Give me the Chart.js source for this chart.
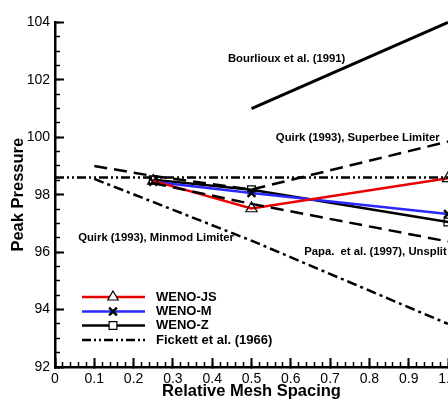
<!DOCTYPE html>
<html>
<head>
<meta charset="utf-8">
<script src="https://cdn.jsdelivr.net/npm/chart.js@4.4.1/dist/chart.umd.min.js"></script>
<style>
  html, body { margin: 0; padding: 0; background: #fff; overflow: hidden; }
  #wrap { width: 480px; height: 406px; }
</style>
</head>
<body>
<div id="wrap"><canvas id="peak" width="480" height="406"></canvas></div>
<script>
// mesh spacing used by the WENO runs
const meshSpacing = [0.25, 0.5, 1.0]
const wenoJS = [98.48, 97.52, 98.57]
const wenoM = [98.45, 98.06, 97.33]
const wenoZ = [98.52, 98.17, 97.05]

// reference results
const fickettX = [0, 1.0]
const fickett = [98.6, 98.6]
const superbeeX = [0.1, 0.25, 0.5, 1.0]
const superbee = [99.0, 98.65, 98.18, 99.85]
const minmodX = [0.1, 0.5, 1.0]
const minmod = [98.55, 96.4, 93.5]
const papaX = [0.25, 0.5, 1.0]
const papa = [98.4, 97.68, 96.37]
const bourliouxX = [0.5, 1.0]
const bourlioux = [101.0, 104.0]

const legendNames = ['WENO-JS', 'WENO-M', 'WENO-Z', 'Fickett et al. (1966)']
const noteTexts = ['Bourlioux et al. (1991)', 'Quirk (1993), Superbee Limiter',
  'Quirk (1993), Minmod Limiter', 'Papa.  et al. (1997), Unsplit']

const FONT = 'Arial, "Liberation Sans", Helvetica, sans-serif'
const RED = 'rgb(235,0,0)'
const BLUE = 'rgb(40,40,255)'

function pts(xs, ys) {
  return xs.map((x, i) => ({ x, y: ys[i] }))
}

function refLine(label, xs, ys, dash, width) {
  return {
    label, data: pts(xs, ys), borderColor: '#000', borderWidth: width || 2.5,
    borderDash: dash, pointRadius: 0, fill: false, tension: 0, clip: false
  }
}

function wenoLine(label, ys, color, style, r, bw) {
  return {
    label, data: pts(meshSpacing, ys), borderColor: color, borderWidth: 2.5,
    pointStyle: style, pointRadius: r, pointBorderColor: '#000', pointBorderWidth: bw,
    pointBackgroundColor: 'rgba(0,0,0,0)', fill: false, tension: 0, clip: false
  }
}

// text notes next to the reference curves, plus the legend box
const notesPlugin = {
  id: 'notes',
  afterDatasetsDraw(chart) {
    const { ctx, scales } = chart
    const xs = scales.x, ys = scales.y
    const spots = [[0.44, 102.72], [0.562, 99.97], [0.059, 96.49], [0.634, 96.02]]
    ctx.save()
    ctx.fillStyle = '#000'
    ctx.font = 'bold 11.3px ' + FONT
    ctx.textBaseline = 'middle'
    noteTexts.forEach((t, i) => {
      ctx.fillText(t, xs.getPixelForValue(spots[i][0]), ys.getPixelForValue(spots[i][1]))
    })

    // legend
    const styles = [
      { color: RED, dash: [], point: 'triangle', r: 6, bw: 1.2 },
      { color: BLUE, dash: [], point: 'crossRot', r: 5.5, bw: 2.5 },
      { color: '#000', dash: [], point: 'rect', r: 5.5, bw: 1.2 },
      { color: '#000', dash: [9, 3, 2, 3, 2, 3], point: null }
    ]
    const lx0 = 82, lx1 = 145, mx = 113, tx = 156
    const rows = [297, 311.5, 325.5, 340]
    styles.forEach((s, i) => {
      const y = rows[i]
      ctx.setLineDash(s.dash)
      ctx.strokeStyle = s.color
      ctx.lineWidth = 2.5
      ctx.beginPath()
      ctx.moveTo(lx0, y)
      ctx.lineTo(lx1, y)
      ctx.stroke()
      ctx.setLineDash([])
      if (s.point) {
        ctx.strokeStyle = '#000'
        ctx.fillStyle = s.point === 'crossRot' ? '#000' : '#fff'
        ctx.lineWidth = s.bw
        Chart.helpers.drawPoint(ctx, { pointStyle: s.point, radius: s.r, borderWidth: s.bw, rotation: 0 }, mx, y)
      }
      ctx.fillStyle = '#000'
      ctx.font = 'bold 13px ' + FONT
      ctx.fillText(legendNames[i], tx, y)
    })
    ctx.restore()
  }
}

const axisFont = { family: FONT, size: 14 }
const titleFont = { family: FONT, size: 16.5, weight: 'bold' }

new Chart(document.getElementById('peak'), {
  type: 'line',
  data: {
    datasets: [
      refLine('Fickett et al. (1966)', fickettX, fickett, [9, 3, 2, 3, 2, 3]),
      refLine('Superbee', superbeeX, superbee, [13, 7]),
      refLine('Minmod', minmodX, minmod, [10, 4, 3, 4]),
      refLine('Papa', papaX, papa, [13, 7]),
      refLine('Bourlioux', bourliouxX, bourlioux, [], 3),
      wenoLine('WENO-JS', wenoJS, RED, 'triangle', 6.5, 1.2),
      wenoLine('WENO-M', wenoM, BLUE, 'crossRot', 5.5, 2.5),
      wenoLine('WENO-Z', wenoZ, '#000', 'rect', 5.5, 1.2)
    ]
  },
  options: {
    responsive: false,
    animation: false,
    devicePixelRatio: 1,
    layout: { padding: { left: 0, right: 32, top: 10, bottom: 0 } },
    plugins: { legend: { display: false }, tooltip: { enabled: false } },
    scales: {
      x: {
        type: 'linear', position: 'bottom', weight: 1, min: 0, max: 1,
        ticks: { stepSize: 0.1, color: '#000', font: axisFont, padding: 12.3, maxRotation: 0 },
        grid: { drawOnChartArea: false, tickLength: -9, tickWidth: 2, tickColor: '#000' },
        border: { display: true, width: 2.5, color: '#000' },
        title: { display: true, text: 'Relative Mesh Spacing', color: '#000', font: titleFont, padding: { top: 0, bottom: 4.6 } },
        afterFit(s) { s.height = 39 }
      },
      xMinor: {
        type: 'linear', position: 'bottom', weight: 0, min: 0, max: 1,
        ticks: { stepSize: 0.02, display: false, maxTicksLimit: 100 },
        grid: { drawOnChartArea: false, tickLength: -5, tickWidth: 1.5, tickColor: '#000' },
        border: { display: false },
        afterFit(s) { s.height = 0 }
      },
      y: {
        type: 'linear', position: 'left', weight: 1, min: 92, max: 104,
        ticks: { stepSize: 2, color: '#000', font: axisFont, padding: 14 },
        grid: { drawOnChartArea: false, tickLength: -9, tickWidth: 2, tickColor: '#000' },
        border: { display: true, width: 2.5, color: '#000' },
        title: { display: true, text: 'Peak Pressure', color: '#000', font: titleFont, padding: { top: 9, bottom: 0 } },
        afterFit(s) { s.width = 55 }
      },
      yMinor: {
        type: 'linear', position: 'left', weight: 0, min: 92, max: 104,
        ticks: { stepSize: 0.5, display: false, maxTicksLimit: 100 },
        grid: { drawOnChartArea: false, tickLength: -5, tickWidth: 1.5, tickColor: '#000' },
        border: { display: false },
        afterFit(s) { s.width = 0 }
      }
    }
  },
  plugins: [notesPlugin]
})
</script>
</body>
</html>
